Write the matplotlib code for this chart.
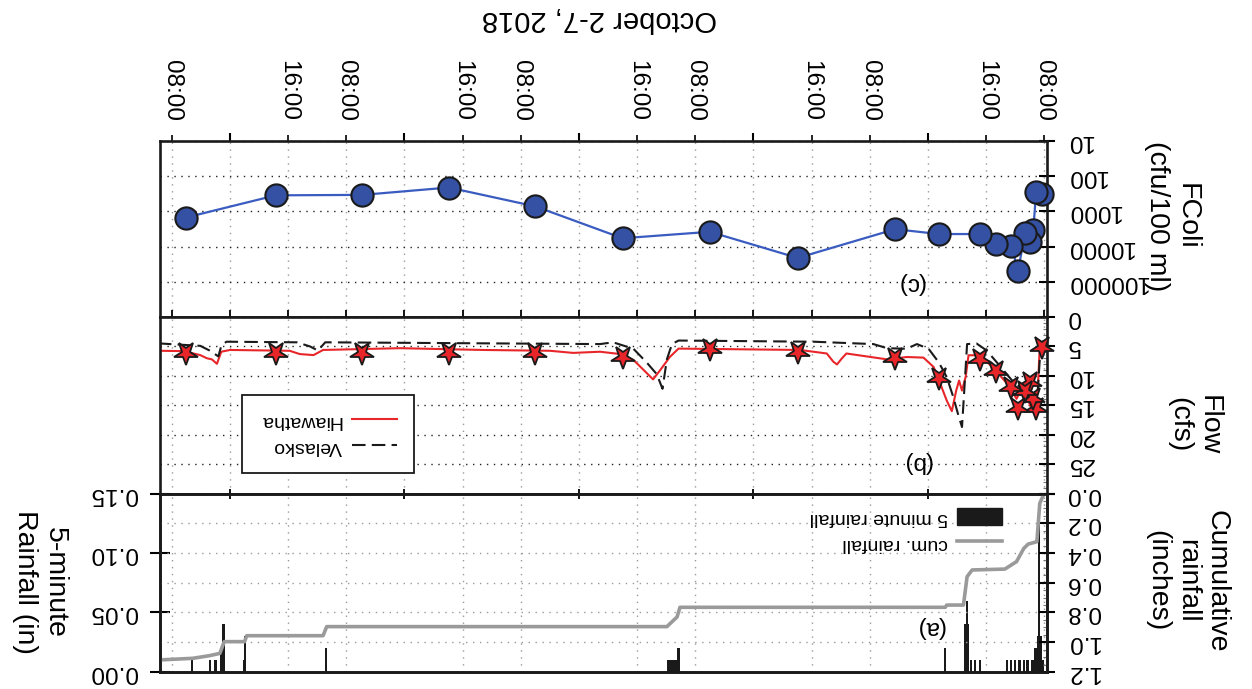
import numpy as np
import matplotlib.pyplot as plt
from matplotlib.markers import MarkerStyle
from matplotlib.transforms import Affine2D
from matplotlib.patches import Patch
from matplotlib.ticker import FixedLocator, NullFormatter, LogLocator, MultipleLocator

plt.rcParams['font.family'] = ['Liberation Sans', 'DejaVu Sans']

# time axis: hours since 2 Oct 2018 00:00
# FColi samples (cfu/100 ml) and Hiawatha flow at the sampling times
fcoli_t = [8.3, 9.1, 9.5, 9.9, 10.6, 11.6, 12.5, 14.6, 16.8, 22.5, 28.5, 41.9,
           54.0, 66.0, 78.0, 89.9, 101.8, 113.7, 126.1]
fcoli = [320, 280, 3400, 7400, 4000, 49000, 9500, 8500, 4400, 4400, 3200, 21000,
         3800, 5800, 720, 210, 340, 350, 1500]
sample_q = [5.1, 15.5, 13.8, 11.0, 12.5, 15.5, 11.9, 9.2, 7.1, 10.4, 7.0, 5.9,
            5.4, 6.8, 6.1, 6.1, 6.1, 6.1, 6.1]

# flow, cfs
hia_t = [7.9, 8.6, 8.9, 9.5, 10.2, 11.1, 11.8, 12.9, 14.1, 15.4, 16.8, 18.4, 18.8,
         19.3, 19.7, 20.1, 20.7, 21.4, 22.3, 23.2, 24.6, 26.9, 29.6, 35.2, 35.8,
         36.5, 37.0, 37.9, 41.6, 58.3, 59.5, 60.8, 61.8, 63.1, 64.5, 66.3, 69.1,
         72.8, 76.0, 85.2, 96.6, 107.2, 108.5, 110.4, 111.8, 120.0, 121.2, 121.8,
         122.5, 123.2, 124.1, 126.4, 129.6]
hia_q = [4.5, 5.0, 13.0, 16.2, 14.2, 12.2, 13.9, 11.6, 9.9, 8.2, 6.5, 6.5, 10.2,
         12.5, 10.8, 12.5, 16.0, 14.2, 11.3, 8.5, 6.9, 6.8, 7.2, 6.2, 7.0,
         8.06, 7.6, 6.2, 5.6, 5.37, 6.8, 9.0, 10.6, 9.0, 7.3, 6.3, 5.9,
         6.1, 5.74, 5.6, 5.3, 5.6, 6.47, 6.3, 5.74, 5.6, 5.9, 7.95,
         7.2, 7.0, 6.47, 5.8, 5.74]
vel_t = [8.1, 8.6, 9.0, 9.9, 11.1, 12.4, 14.1, 15.9, 17.3, 18.6, 19.0, 19.3, 19.8,
         20.5, 21.4, 22.5, 23.9, 25.5, 26.9, 29.6, 31.5, 39.7, 58.3, 59.2, 59.9,
         60.5, 61.3, 62.7, 64.5, 67.3, 69.1, 106.9, 107.9, 109.0, 110.8, 120.5,
         121.2, 121.6, 122.8, 124.1, 129.6]
vel_q = [4.0, 7.2, 15.0, 13.6, 12.2, 10.8, 8.3, 5.7, 4.5, 4.6, 12.7, 18.7, 16.7,
         13.6, 10.2, 7.7, 5.4, 4.6, 5.4, 5.3, 4.6, 4.2, 4.0, 4.6, 7.2,
         12.2, 9.7, 7.7, 5.4, 4.3, 4.6, 4.3, 5.7, 5.0, 4.3, 4.2,
         4.9, 6.7, 5.7, 4.9, 4.5]

# 5-minute rainfall (in)
rain_t = [8.2, 8.45, 8.7, 8.9, 9.2, 9.6, 10.3, 10.8, 11.4, 12.0, 12.6, 13.1, 16.8,
          17.5, 18.1, 18.45, 18.65, 18.85, 21.6, 58.3, 58.6, 59.0, 59.4, 59.7,
          106.8, 117.9, 118.05, 120.9, 121.2, 122.0, 122.8, 125.2]
rain_in = [0.01, 0.03, 0.14, 0.03, 0.02, 0.01, 0.01, 0.01, 0.01, 0.01, 0.01, 0.01,
           0.01, 0.01, 0.01, 0.04, 0.06, 0.04, 0.02, 0.02, 0.01, 0.01, 0.01, 0.01,
           0.02, 0.03, 0.01, 0.04, 0.02, 0.01, 0.01, 0.01]
# cumulative rainfall (in)
cum_t = [7.7, 8.1, 8.6, 9.0, 10.2, 10.8, 11.8, 13.4, 17.9, 18.6, 19.1, 21.4, 21.6,
         58.1, 58.5, 59.9, 106.7, 107.2, 117.7, 118.0, 120.8, 121.4, 122.8, 125.1,
         129.7]
cum_in = [0.0, 0.01, 0.066, 0.324, 0.34, 0.369, 0.458, 0.508, 0.514, 0.559, 0.75,
          0.75, 0.765, 0.765, 0.83, 0.895, 0.895, 0.956, 0.956, 0.996, 0.996, 1.075,
          1.09, 1.108, 1.119]

major_t = [24, 48, 72, 96, 120]
minor_t = [8, 16, 32, 40, 56, 64, 80, 88, 104, 112, 128]
minor_lbl = ['08:00' if h % 24 == 8 else '16:00' for h in minor_t]

fig = plt.figure(figsize=(12.52, 6.89), dpi=100)
L, W = 0.1274, 0.7089
ax_c = fig.add_axes([L, 0.5399, W, 0.2555])
ax_b = fig.add_axes([L, 0.2837, W, 0.2562])
ax_a = fig.add_axes([L, 0.0247, W, 0.2590])
ax_cum = ax_a.twinx()

tick_fs = 17.5
leg_fs = 14
grid_v = dict(color='#9a9a9a', linestyle=(0, (1, 4)), linewidth=1.0)
grid_h = dict(color='#222222', linestyle=(0, (1, 4)), linewidth=1.0)

for ax in (ax_c, ax_b, ax_a, ax_cum):
    ax.set_xlim(129.7, 7.6)
    ax.xaxis.set_major_locator(FixedLocator(major_t))
    ax.xaxis.set_minor_locator(FixedLocator(minor_t))
    ax.xaxis.set_major_formatter(NullFormatter())
    ax.xaxis.set_minor_formatter(NullFormatter())
    for s in ax.spines.values():
        s.set_linewidth(1.9)
        s.set_color('#1a1a1a')

# ---- (c) FColi ----
ax_c.plot(fcoli_t, fcoli, '-o', color='#3a5cc0', lw=1.6, ms=16,
          mfc='#3451a3', mec='#1a1a1a', mew=1.5, zorder=4, clip_on=False)
ax_c.set_yscale('log')
ax_c.set_ylim(1e6, 10)
ax_c.yaxis.set_major_locator(FixedLocator([10, 100, 1000, 10000, 100000]))
ax_c.set_yticklabels(['10', '100', '1000', '10000', '100000'])
ax_c.yaxis.set_minor_locator(LogLocator(base=10, subs=range(2, 10)))
ax_c.yaxis.set_minor_formatter(NullFormatter())
ax_c.xaxis.tick_top()
ax_c.xaxis.set_minor_formatter(plt.FixedFormatter(minor_lbl))
ax_c.tick_params(axis='x', which='major', top=True, bottom=True, direction='out',
                 length=6, width=1.5)
ax_c.tick_params(axis='x', which='minor', top=True, bottom=True, direction='out',
                 length=4.5, width=1.2, labeltop=True, labelrotation=270,
                 labelsize=tick_fs, pad=10)
ax_c.grid(True, axis='x', which='both', **grid_v)
ax_c.grid(True, axis='y', which='major', **grid_h)
ax_c.text(0.8456, 0.193, '(c)', transform=ax_c.transAxes, rotation=180,
          ha='center', va='center', fontsize=tick_fs)

# ---- (b) Flow ----
ax_b.plot(hia_t, hia_q, color='#e8262a', lw=1.5, label='Hiawatha')
ax_b.plot(vel_t, vel_q, color='#1a1a1a', lw=1.5, linestyle=(0, (6.5, 3.0)),
          label='Velasko')
star = MarkerStyle('*', transform=Affine2D().rotate_deg(180))
ax_b.plot(fcoli_t, sample_q, linestyle='none', marker=star, ms=17.5,
          mfc='#e8262a', mec='#1a1a1a', mew=1.3, zorder=5, clip_on=False)
ax_b.set_ylim(30, 0)
ax_b.yaxis.set_major_locator(FixedLocator([0, 5, 10, 15, 20, 25, 30]))
ax_b.set_yticklabels(['0', '5', '10', '15', '20', '25', ''])
ax_b.yaxis.set_minor_locator(MultipleLocator(1))
ax_b.tick_params(axis='x', which='both', top=True, bottom=False, direction='out',
                 length=5, width=1.3)
ax_b.grid(True, axis='x', which='both', **grid_v)
ax_b.grid(True, axis='y', which='major', **grid_h)
ax_b.text(0.8535, 0.178, '(b)', transform=ax_b.transAxes, rotation=180,
          ha='center', va='center', fontsize=tick_fs)
leg_b = ax_b.legend(loc='lower left', bbox_to_anchor=(0.093, 0.116), fontsize=leg_fs,
                    markerfirst=False, fancybox=False, framealpha=1,
                    edgecolor='#1a1a1a', borderpad=0.9, labelspacing=0.4,
                    handlelength=2.3, handletextpad=0.55, borderaxespad=0)
leg_b.get_frame().set_linewidth(1.3)

# ---- (a) Rainfall ----
bars = ax_a.bar(rain_t, rain_in, width=0.3, color='#1a1a1a', linewidth=0,
                label='5 minute rainfall')
ax_a.set_ylim(0, 0.15)
ax_a.yaxis.set_major_locator(FixedLocator([0, 0.05, 0.10, 0.15]))
ax_a.set_yticklabels(['0.00', '0.05', '0.10', '0.15'])
cum_line, = ax_cum.plot(cum_t, cum_in, color='#9a9a9a', lw=2.6, label='cum. rainfall')
ax_cum.set_ylim(1.2, 0)
ax_cum.yaxis.set_major_locator(FixedLocator([0, 0.2, 0.4, 0.6, 0.8, 1.0, 1.2]))
ax_cum.set_yticklabels(['0.0', '0.2', '0.4', '0.6', '0.8', '1.0', '1.2'])
ax_cum.yaxis.set_minor_locator(MultipleLocator(0.05))
ax_a.tick_params(axis='x', which='major', top=True, bottom=False, direction='inout',
                 length=7, width=1.3)
ax_a.tick_params(axis='x', which='minor', top=False, bottom=False)
ax_cum.tick_params(axis='x', which='both', top=False, bottom=False)
ax_a.grid(True, axis='x', which='minor', **grid_v)
ax_cum.grid(True, axis='y', which='major', color='#9a9a9a', linestyle=(0, (1, 4)),
            linewidth=1.0)
ax_cum.text(0.868, 0.252, '(a)', transform=ax_cum.transAxes, rotation=180,
            ha='center', va='center', fontsize=tick_fs)
leg_a = ax_cum.legend([Patch(color='#1a1a1a'), cum_line],
                      ['5 minute rainfall', 'cum. rainfall'],
                      loc='upper right', bbox_to_anchor=(0.958, 0.964), fontsize=leg_fs,
                      markerfirst=False, frameon=False, borderpad=0.4,
                      labelspacing=0.35, handlelength=2.3, handleheight=0.95,
                      handletextpad=0.5, borderaxespad=0)

# y tick styling (all upside down)
for ax in (ax_c, ax_b, ax_cum):
    ax.yaxis.tick_right()
for ax in (ax_c, ax_b, ax_a, ax_cum):
    ax.tick_params(axis='y', which='major', direction='inout', length=12, width=1.5,
                   labelsize=tick_fs, labelrotation=180, pad=8)
    ax.tick_params(axis='y', which='minor', direction='in', length=3, width=0.8,
                   color='#777777')
ax_a.tick_params(axis='y', which='major', length=14, pad=9)
for ax in (ax_c, ax_b, ax_a, ax_cum):
    for lbl in ax.get_yticklabels():
        lbl.set_va('center')

# axis titles
lab_fs = 20.5
fig.text(0.479, 0.972, 'October 2-7, 2018', rotation=180, ha='center', va='center',
         fontsize=21)
fig.text(0.936, 0.686, 'FColi\n(cfu/100 ml)', rotation=270, ha='center', va='center',
         multialignment='center', fontsize=lab_fs)
fig.text(0.9537, 0.383, 'Flow\n(cfs)', rotation=270, ha='center', va='center',
         multialignment='center', fontsize=lab_fs)
fig.text(0.948, 0.157, 'Cumulative\nrainfall\n(inches)', rotation=270, ha='center',
         va='center', multialignment='center', fontsize=lab_fs)
fig.text(0.032, 0.155, '5-minute\nRainfall (in)', rotation=270, ha='center',
         va='center', multialignment='center', fontsize=lab_fs)

# legend labels: lay out upright, then draw them turned over in the same spot
fig.canvas.draw()
inv = fig.transFigure.inverted()
for leg in (leg_b, leg_a):
    for t in leg.get_texts():
        bb = t.get_window_extent()
        cx, cy = inv.transform(((bb.x0 + bb.x1) / 2, (bb.y0 + bb.y1) / 2 + 1))
        fig.text(cx, cy, t.get_text(), rotation=180, ha='center', va='center',
                 fontsize=leg_fs, zorder=10)
        t.set_alpha(0)

fig.savefig('out.png', dpi=100)
